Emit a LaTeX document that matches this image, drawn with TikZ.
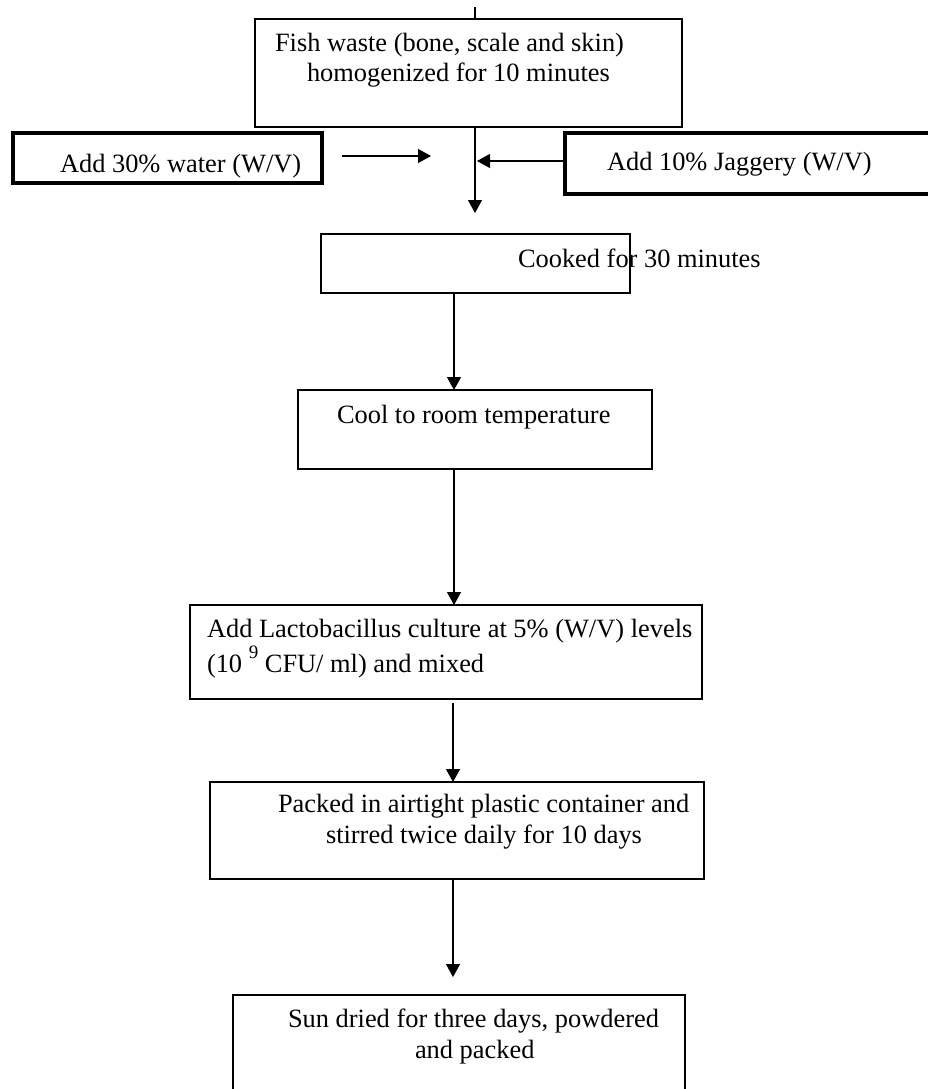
\documentclass[tikz,border=0pt]{standalone}
\usepackage{fontspec}
\setmainfont{Liberation Serif}
\usetikzlibrary{arrows.meta}
\begin{document}
\begin{tikzpicture}[x=1pt,y=-1pt,
  every node/.style={font=\fontsize{26.4}{30}\selectfont, inner sep=0pt, outer sep=0pt},
  box/.style={draw, line width=1.3pt, rectangle, anchor=north west},
  thickbox/.style={draw, line width=3.8pt, rectangle, anchor=north west},
  txt/.style={anchor=base west},
  conn/.style={line width=1.2pt},
  arr/.style={line width=1.2pt, -{Triangle[length=13pt,width=14pt]}}]
\useasboundingbox (0,0) rectangle (928,1089);
\clip (0,0) rectangle (928,1089);
\fill[white] (0,0) rectangle (928,1089);

% boxes
\node[box, minimum width=427pt, minimum height=108pt] (b1) at (255,19) {};
\node[thickbox, minimum width=309pt, minimum height=50pt] (water) at (13,133) {};
\node[thickbox, minimum width=400pt, minimum height=61pt] (jag) at (565,133) {};
\node[box, minimum width=309pt, minimum height=59pt] (cook) at (321,234) {};
\node[box, minimum width=354pt, minimum height=79pt] (cool) at (298,390) {};
\node[box, minimum width=512pt, minimum height=94pt] (lacto) at (190,605) {};
\node[box, minimum width=494pt, minimum height=97pt] (pack) at (210,782) {};
\node[box, minimum width=452pt, minimum height=120pt] (sun) at (233,995) {};

% texts
\node[txt] (t1a) at (275,52) {Fish waste (bone, scale and skin)};
\node[txt] (t1b) at (307,82) {homogenized for 10 minutes};
\node[txt] (tw) at (60,172) {Add 30\% water (W/V)};
\node[txt] (tj) at (607,170) {Add 10\% Jaggery (W/V)};
\node[txt] (tc) at (518,267) {Cooked for 30 minutes};
\node[txt] (tl) at (337,423) {Cool to room temperature};
\node[txt] (tla) at (207,637) {Add Lactobacillus culture at 5\% (W/V) levels};
\node[txt] (tlb) at (207,672) {(10 \raisebox{14pt}{\fontsize{19}{19}\selectfont 9} CFU/ ml) and mixed};
\node[txt] (tpa) at (278,812) {Packed in airtight plastic container and};
\node[txt] (tpb) at (326,843) {stirred twice daily for 10 days};
\node[txt] (tsa) at (288,1027) {Sun dried for three days, powdered};
\node[txt] (tsb) at (415,1058) {and packed};

% coordinates
\coordinate (top) at (475,7);
\coordinate (tip1) at (475,213);
\coordinate (w0) at (342,156);
\coordinate (w1) at (431,156);
\coordinate (j1) at (477,161);
\coordinate (ax) at (454,0);
\coordinate (bx) at (453,0);

% connectors
\draw[conn] (top) -- (top |- b1.north);
\draw[arr] (top |- b1.south) -- (tip1);
\draw[arr] (w0) -- (w1);
\draw[arr] (jag.west |- j1) -- (j1);
\draw[arr] (cook.south -| ax) -- (cool.north -| ax);
\draw[arr] (cool.south -| ax) -- (lacto.north -| ax);
\draw[arr] ([yshift=-4pt]lacto.south -| bx) -- (pack.north -| bx);
\draw[arr] (pack.south -| bx) -- ([yshift=18pt]sun.north -| bx);
\end{tikzpicture}
\end{document}
